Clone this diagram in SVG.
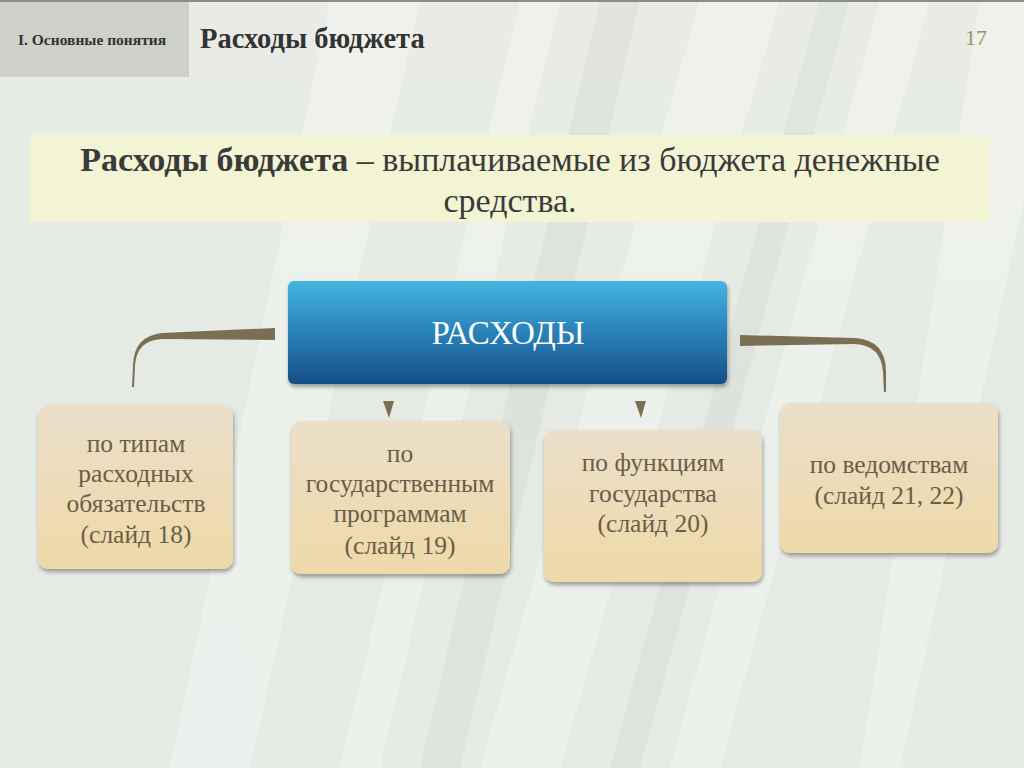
<svg xmlns="http://www.w3.org/2000/svg" width="1024" height="768" viewBox="0 0 1024 768">
<defs>
<linearGradient id="bg" x1="0" y1="0" x2="0" y2="1">
<stop offset="0" stop-color="#e9ece6"/>
<stop offset="0.5" stop-color="#e5ebe4"/>
<stop offset="1" stop-color="#e6ebe5"/>
</linearGradient>
<linearGradient id="blue" x1="0" y1="0" x2="0" y2="1">
<stop offset="0" stop-color="#43b6e0"/>
<stop offset="0.45" stop-color="#2c86bd"/>
<stop offset="1" stop-color="#174f88"/>
</linearGradient>
<linearGradient id="tan" x1="0" y1="0" x2="0" y2="1">
<stop offset="0" stop-color="#ebdfca"/>
<stop offset="1" stop-color="#eed9a8"/>
</linearGradient>
<filter id="sh" x="-10%" y="-10%" width="125%" height="130%">
<feDropShadow dx="1" dy="3" stdDeviation="2" flood-color="#000" flood-opacity="0.35"/>
</filter>
<style>
.t{font-family:"Liberation Serif","DejaVu Serif",serif}
.box{fill:url(#tan);filter:url(#sh)}
.bt{font-family:"Liberation Serif","DejaVu Serif",serif;font-size:25.5px;fill:#6b5e47;text-anchor:middle}
.conn{fill:#7b6f53}
</style>
</defs>
<rect width="1024" height="768" fill="url(#bg)"/>
<g opacity="0.3" fill="#ffffff">
<polygon points="330,0 420,0 250,768 170,768"/>
<polygon points="520,0 560,0 380,768 340,768"/>
<polygon points="700,0 780,0 560,768 480,768"/>
<polygon points="880,0 930,0 720,768 670,768"/>
<polygon points="980,0 1024,0 1024,200 900,768 860,768"/>
</g>
<g opacity="0.08" fill="#8a938a">
<polygon points="600,0 640,0 460,768 420,768"/>
<polygon points="820,0 850,0 640,768 610,768"/>
</g>
<rect x="0" y="0" width="1024" height="2" fill="#8a8d88"/>
<g id="header">
<rect x="0" y="2" width="189" height="75" fill="#cdd1ca"/>
<text class="t" x="18" y="45" font-size="15.5" font-weight="bold" fill="#333">I. Основные понятия</text>
<text class="t" x="200" y="48" font-size="28.5" font-weight="bold" fill="#333">Расходы бюджета</text>
<text class="t" x="976" y="45" font-size="22" fill="#8a9a5a" text-anchor="middle">17</text>
</g>
<g id="definition">
<rect x="30" y="135" width="960" height="87" fill="#f2f4d4"/>
<text class="t" x="510" y="171" font-size="34" fill="#3a3a3a" text-anchor="middle"><tspan font-weight="bold">Расходы бюджета</tspan> – выплачиваемые из бюджета денежные</text>
<text class="t" x="510" y="212" font-size="34" fill="#3a3a3a" text-anchor="middle">средства.</text>
</g>
<g id="connectors">
<path class="conn" d="M275,328 L162,333 Q134,336 133,365 L132,387 L134,387 L135,365 Q137,340 162,339 L275,340 Z"/>
<path class="conn" d="M740,335 L855,338 Q886,340 886,372 L886,392 L884,392 L883,372 Q881,345 855,344 L740,346 Z"/>
<polygon class="conn" points="383,401 394,401 389,418"/>
<polygon class="conn" points="635,401 646,401 641,418"/>
</g>
<g id="root">
<rect x="288" y="281" width="439" height="103" rx="6" fill="url(#blue)" filter="url(#sh)"/>
<text class="t" x="508" y="344" font-size="33" fill="#ffffff" text-anchor="middle">РАСХОДЫ</text>
</g>
<g id="n1">
<rect class="box" x="38" y="405" width="195" height="164" rx="10"/>
<text class="bt" x="136" y="452">по типам</text>
<text class="bt" x="136" y="482">расходных</text>
<text class="bt" x="136" y="512">обязательств</text>
<text class="bt" x="136" y="543">(слайд 18)</text>
</g>
<g id="n2">
<rect class="box" x="291" y="421" width="219" height="153" rx="10"/>
<text class="bt" x="400" y="462">по</text>
<text class="bt" x="400" y="492">государственным</text>
<text class="bt" x="400" y="522">программам</text>
<text class="bt" x="400" y="554">(слайд 19)</text>
</g>
<g id="n3">
<rect class="box" x="544" y="430" width="218" height="152" rx="10"/>
<text class="bt" x="653" y="471">по функциям</text>
<text class="bt" x="653" y="502">государства</text>
<text class="bt" x="653" y="532">(слайд 20)</text>
</g>
<g id="n4">
<rect class="box" x="780" y="403" width="218" height="150" rx="10"/>
<text class="bt" x="889" y="473">по ведомствам</text>
<text class="bt" x="889" y="504">(слайд 21, 22)</text>
</g>
</svg>
